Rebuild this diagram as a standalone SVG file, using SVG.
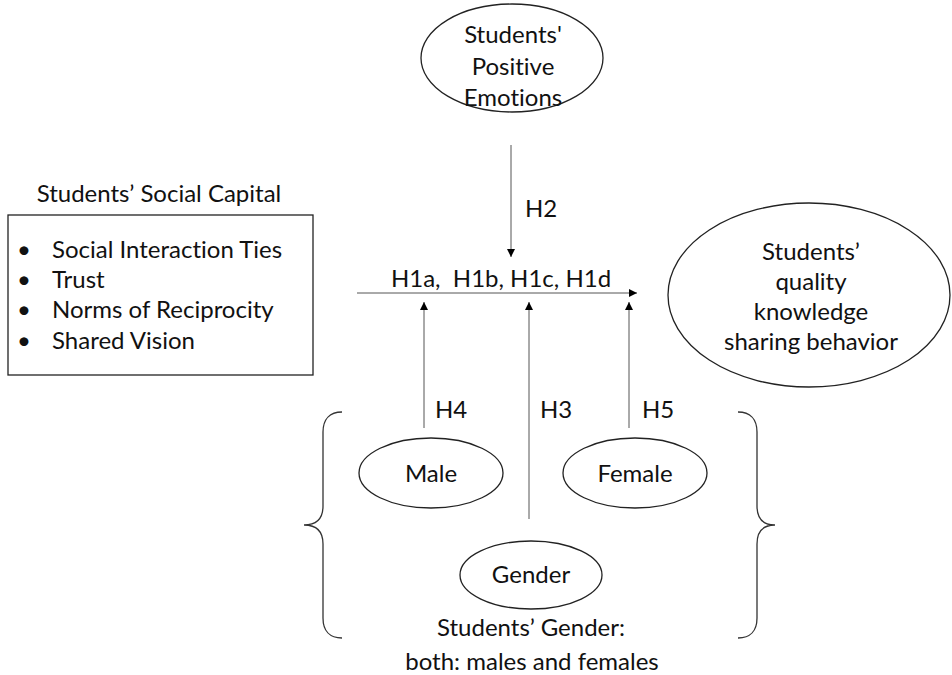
<svg xmlns="http://www.w3.org/2000/svg" width="952" height="675" viewBox="0 0 952 675">
<defs>
<style>
text{font-family:Lato,"Liberation Sans",sans-serif;font-size:24px;fill:#111;font-variant-ligatures:none;}
.c{text-anchor:middle;}
.pre{white-space:pre;}
.shape{fill:#fff;stroke:#222;stroke-width:1.3;}
.ln{fill:none;stroke:#555;stroke-width:1;}
.br{fill:none;stroke:#333;stroke-width:1.3;}
</style>
<marker id="ah" viewBox="0 0 10 10" refX="10" refY="5" markerWidth="9" markerHeight="8" markerUnits="userSpaceOnUse" orient="auto">
<path d="M0,0 L10,5 L0,10 z" fill="#000"/>
</marker>
</defs>
<rect width="952" height="675" fill="#fff"/>

<g id="social-capital">
<text class="c" x="159" y="202">Students’ Social Capital</text>
<rect class="shape" x="8" y="215" width="305" height="160"/>
<text x="17" y="258">•</text><text x="52" y="258">Social Interaction Ties</text>
<text x="17" y="288">•</text><text x="52" y="288">Trust</text>
<text x="17" y="318">•</text><text x="52" y="318">Norms of Reciprocity</text>
<text x="17" y="349">•</text><text x="52" y="349">Shared Vision</text>
</g>

<g id="positive-emotions">
<ellipse class="shape" cx="512" cy="58" rx="91" ry="54"/>
<text class="c" x="513" y="43">Students'</text>
<text class="c" x="513" y="75">Positive</text>
<text class="c" x="513" y="106">Emotions</text>
</g>

<g id="knowledge-sharing">
<ellipse class="shape" cx="809" cy="295" rx="141" ry="92"/>
<text class="c" x="811" y="260">Students’</text>
<text class="c" x="811" y="290">quality</text>
<text class="c" x="811" y="320">knowledge</text>
<text class="c" x="811" y="350">sharing behavior</text>
</g>

<g id="male">
<ellipse class="shape" cx="431" cy="473" rx="72" ry="35"/>
<text class="c" x="431" y="482">Male</text>
</g>

<g id="female">
<ellipse class="shape" cx="635" cy="473" rx="72" ry="35"/>
<text class="c" x="635" y="482">Female</text>
</g>

<g id="gender">
<ellipse class="shape" cx="531" cy="575" rx="71" ry="34"/>
<text class="c" x="531" y="583">Gender</text>
</g>

<g id="gender-group">
<path class="br" d="M342,412 C330,412 323,419 323,432 L323,506 C323,519 316,525 304,525 C316,525 323,531 323,544 L323,618 C323,631 330,638 342,638"/>
<path class="br" d="M738,412 C750,412 757,419 757,432 L757,506 C757,519 764,525 775,525 C764,525 757,531 757,544 L757,618 C757,631 750,638 738,638"/>
<text class="c" x="531" y="636">Students’ Gender:</text>
<text class="c" x="532" y="670">both: males and females</text>
</g>

<g id="connectors">
<line class="ln" x1="357" y1="293" x2="637" y2="293" marker-end="url(#ah)"/>
<text class="c pre" x="501" y="287" xml:space="preserve">H1a,  H1b, H1c, H1d</text>
<line class="ln" x1="511" y1="145" x2="511" y2="257" marker-end="url(#ah)"/>
<text x="525" y="217">H2</text>
<line class="ln" x1="424" y1="428" x2="424" y2="302" marker-end="url(#ah)"/>
<text x="435" y="418">H4</text>
<line class="ln" x1="529" y1="519" x2="529" y2="302" marker-end="url(#ah)"/>
<text x="540" y="418">H3</text>
<line class="ln" x1="629" y1="428" x2="629" y2="302" marker-end="url(#ah)"/>
<text x="642" y="418">H5</text>
</g>
</svg>
